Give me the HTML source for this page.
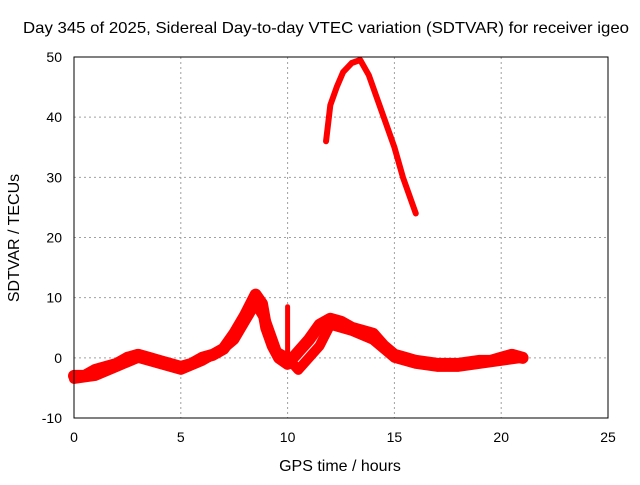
<!DOCTYPE html>
<html><head><meta charset="utf-8"><style>
body{margin:0;background:#fff;}
svg text{font-family:"Liberation Sans",sans-serif;font-size:14px;fill:#000;}
svg text.big{font-size:16px;}
</style></head><body>
<svg id="chart" width="640" height="480">
<rect width="640" height="480" fill="#fff"/>
<text class="big" x="326" y="33" text-anchor="middle" textLength="606" lengthAdjust="spacingAndGlyphs">Day 345 of 2025, Sidereal Day-to-day VTEC variation (SDTVAR) for receiver igeo</text>
<text class="big" x="340" y="471" text-anchor="middle">GPS time / hours</text>
<text class="big" transform="translate(19,238) rotate(-90)" text-anchor="middle">SDTVAR / TECUs</text>
<g id="grid"></g><g id="ticks"></g><g id="marks"></g>
<rect x="74" y="57" width="534" height="361" fill="none" stroke="#000" stroke-width="1"/>
</svg>
<script>
const xTicks=[0,5,10,15,20,25];
const yTicks=[-10,0,10,20,30,40,50];
const lowHours=[0,0.5,1,1.5,2,2.5,3,3.5,4,4.5,5,5.5,6,6.5,7,7.5,8,8.5,8.8,9,9.3,9.6,10,10.5,11,11.5,12,12.5,13,13.5,14,14.5,15,15.5,16,17,18,19,19.5,20,20.5,21];
const lowValues=[-3,-3,-2,-1.5,-1,0,0.5,0,-0.5,-1,-1.5,-1,0,0.5,1.5,4,7,10.5,9,5,2,0,-1,1,3,5.5,6.5,6,5,4.5,4,2,0.5,0,-0.5,-1,-1,-0.5,-0.5,0,0.5,0];
const low2Hours=[0,1,2,3,4,5,6,7,7.5,8,8.5,9,9.5,10,10.5,11,11.5,12,13,14,15,16,17,18,19,20,21];
const low2Values=[-3.5,-3,-1.5,0,-1,-2,-0.5,1.5,3,6,9,6,1,0,-2,0,2,5.5,4.5,3,0,-1,-1.5,-1.5,-1,-0.5,0];
const highHours=[11.8,12,12.3,12.6,13,13.4,13.8,14.2,14.6,15,15.4,15.8,16];
const highValues=[36,42,45,47.5,49,49.5,47,43,39,35,30,26,24];
const spikeHours=[10,10];
const spikeValues=[1,8.5];
const X=h=>74+h*(534/25);
const Y=v=>418-(v+10)*(361/60);
const NS="http://www.w3.org/2000/svg";
function mk(tag,attrs,parent){const e=document.createElementNS(NS,tag);for(const k in attrs)e.setAttribute(k,attrs[k]);parent.appendChild(e);return e;}
const grid=document.getElementById('grid'),ticks=document.getElementById('ticks'),marks=document.getElementById('marks');
xTicks.forEach(t=>{
 if(t>0&&t<25){const g=mk('line',{x1:X(t),x2:X(t),y1:57,y2:418,stroke:'#a0a0a0','stroke-dasharray':'2,3'},grid);
 
 }
 const l=mk('text',{x:X(t),y:442,'text-anchor':'middle'},ticks);l.textContent=t;
 
 
});
yTicks.forEach(t=>{
 if(t>-10&&t<50){const g=mk('line',{x1:74,x2:608,y1:Y(t),y2:Y(t),stroke:'#a0a0a0','stroke-dasharray':'2,3'},grid);
 
 }
 const l=mk('text',{x:62,y:Y(t)+5,'text-anchor':'end'},ticks);l.textContent=t;
 
 
});
function series(hs,vs,w,name){
 const pts=hs.map((h,i)=>X(h)+','+Y(vs[i])).join(' ');
 const p=mk('polyline',{points:pts,fill:'none',stroke:'#ff0000','stroke-width':w,'stroke-linejoin':'round','stroke-linecap':'round'},marks);
 
 
}
series(lowHours,lowValues,12,'low-band-series');
series(low2Hours,low2Values,10,'low-band-second-series');
series(highHours,highValues,6,'high-arc-series');
series(spikeHours,spikeValues,5,'spike-series');
</script>
</body></html>
